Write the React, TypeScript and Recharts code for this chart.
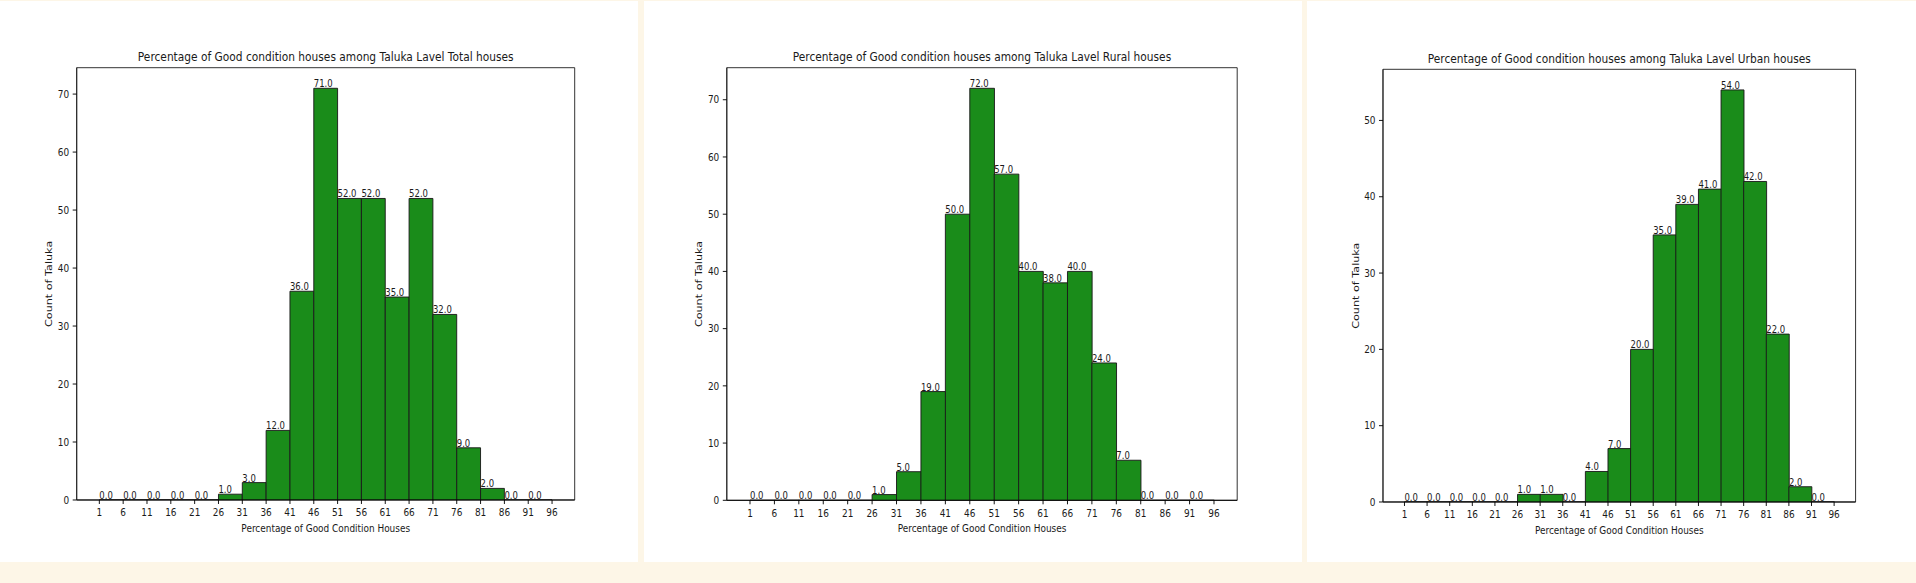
import React from 'react';
import { BarChart, Bar, XAxis, YAxis, LabelList, ReferenceArea } from 'recharts';

// bin left edges 1, 6, ..., 91 (width 5)
const binStarts = [1, 6, 11, 16, 21, 26, 31, 36, 41, 46, 51, 56, 61, 66, 71, 76, 81, 86, 91];
const xTicks = [1, 6, 11, 16, 21, 26, 31, 36, 41, 46, 51, 56, 61, 66, 71, 76, 81, 86, 91, 96];

const totalCounts = [0, 0, 0, 0, 0, 1, 3, 12, 36, 71, 52, 52, 35, 52, 32, 9, 2, 0, 0];
const ruralCounts = [0, 0, 0, 0, 0, 1, 5, 19, 50, 72, 57, 40, 38, 40, 24, 7, 0, 0, 0];
const urbanCounts = [0, 0, 0, 0, 0, 1, 1, 0, 4, 7, 20, 35, 39, 41, 54, 42, 22, 2, 0];

const ticksTo70 = [0, 10, 20, 30, 40, 50, 60, 70];
const ticksTo50 = [0, 10, 20, 30, 40, 50];

const FONT = "'DejaVu Sans', sans-serif";
const TEXT = '#1a1a1a';
const BAR_FILL = '#1a8c1a';
const BAR_EDGE = '#1a1a1a';
const CREAM = '#fdf6e7';

const BIN = 5;
const X_DOMAIN: [number, number] = [binStarts[0] - 4.75, xTicks[xTicks.length - 1] + 4.75];

// the source picture is squeezed horizontally; draw wide and scale it back
const SX = 0.85;
const PANEL_H = 562;
const Y_AXIS_W = 60;

type PanelProps = {
  title: string;
  counts: number[];
  yTicks: number[];
  left: number;
  width: number;
  axisLeft: number;
  axisRight: number;
  axisTop: number;
  axisBottom: number;
};

function ValueLabel(props: any) {
  const { x, y, value } = props;
  if (x == null || y == null) return null;
  return (
    <text x={x} y={y - 1} fontSize={10} fill={TEXT} fontFamily={FONT} textAnchor="start">
      {Number(value).toFixed(1)}
    </text>
  );
}

function HistPanel({ title, counts, yTicks, left, width, axisLeft, axisRight, axisTop, axisBottom }: PanelProps) {
  const data = binStarts.map((s, i) => ({ mid: s + BIN / 2, count: counts[i] }));
  const yMax = Math.max(...counts) * 1.05;
  const tickStyle = { fontSize: 10.5, fill: TEXT, fontFamily: FONT };
  const margin = {
    top: axisTop,
    bottom: PANEL_H - axisBottom - 40,
    left: (axisLeft - left - Y_AXIS_W) / SX,
    right: (left + width - axisRight) / SX,
  };

  return (
    <div style={{ position: 'absolute', left, top: 0, width, height: PANEL_H, background: '#fff', overflow: 'hidden' }}>
      <div style={{ width: width / SX, height: PANEL_H, transform: `scaleX(${SX})`, transformOrigin: 'left top' }}>
        <BarChart width={width / SX} height={PANEL_H} data={data} margin={margin} barCategoryGap={0} barGap={0}>
          <XAxis
            type="number"
            dataKey="mid"
            domain={X_DOMAIN}
            allowDataOverflow
            ticks={xTicks}
            interval={0}
            height={40}
            tickSize={4}
            tickMargin={5}
            tick={tickStyle}
            tickLine={{ stroke: '#000' }}
            axisLine={{ stroke: '#000' }}
            label={{
              value: 'Percentage of Good Condition Houses',
              position: 'insideBottom',
              offset: 8,
              fontSize: 10.5,
              fill: TEXT,
              fontFamily: FONT,
            }}
          />
          <YAxis
            type="number"
            domain={[0, yMax]}
            allowDataOverflow
            ticks={yTicks}
            interval={0}
            width={Y_AXIS_W / SX}
            tickSize={4 / SX}
            tickMargin={3.5 / SX}
            tick={tickStyle}
            tickLine={{ stroke: '#000' }}
            axisLine={{ stroke: '#222' }}
            label={{
              value: 'Count of Taluka',
              angle: -90,
              position: 'insideLeft',
              offset: 32.3 / SX,
              fontSize: 11.2,
              fill: TEXT,
              fontFamily: FONT,
              style: { textAnchor: 'middle' },
            }}
          />
          <Bar
            dataKey="count"
            fill={BAR_FILL}
            stroke={BAR_EDGE}
            strokeWidth={1}
            minPointSize={0.01}
            isAnimationActive={false}
          >
            <LabelList dataKey="count" content={ValueLabel} />
          </Bar>
          <ReferenceArea
            x1={X_DOMAIN[0]}
            x2={X_DOMAIN[1]}
            y1={0}
            y2={yMax}
            ifOverflow="visible"
            fill="none"
            fillOpacity={0}
            stroke="#222"
            strokeWidth={1}
            label={{ value: title, position: 'top', offset: 6.5, fontSize: 12.5, fill: TEXT, fontFamily: FONT }}
          />
        </BarChart>
      </div>
    </div>
  );
}

export default function App() {
  return (
    <div style={{ position: 'absolute', left: 0, top: 0, width: 1916, height: 583, background: CREAM, overflow: 'hidden' }}>
      <HistPanel
        title="Percentage of Good condition houses among Taluka Lavel Total houses"
        counts={totalCounts}
        yTicks={ticksTo70}
        left={0}
        width={638}
        axisLeft={76.7}
        axisRight={574.7}
        axisTop={67.7}
        axisBottom={500}
      />
      <HistPanel
        title="Percentage of Good condition houses among Taluka Lavel Rural houses"
        counts={ruralCounts}
        yTicks={ticksTo70}
        left={643.5}
        width={658.5}
        axisLeft={726.3}
        axisRight={1236.7}
        axisTop={67.7}
        axisBottom={500.3}
      />
      <HistPanel
        title="Percentage of Good condition houses among Taluka Lavel Urban houses"
        counts={urbanCounts}
        yTicks={ticksTo50}
        left={1306.7}
        width={609.3}
        axisLeft={1382.7}
        axisRight={1855.3}
        axisTop={69.3}
        axisBottom={502}
      />
      <div style={{ position: 'absolute', left: 0, top: 0, width: 1916, height: 1, background: CREAM }} />
    </div>
  );
}
